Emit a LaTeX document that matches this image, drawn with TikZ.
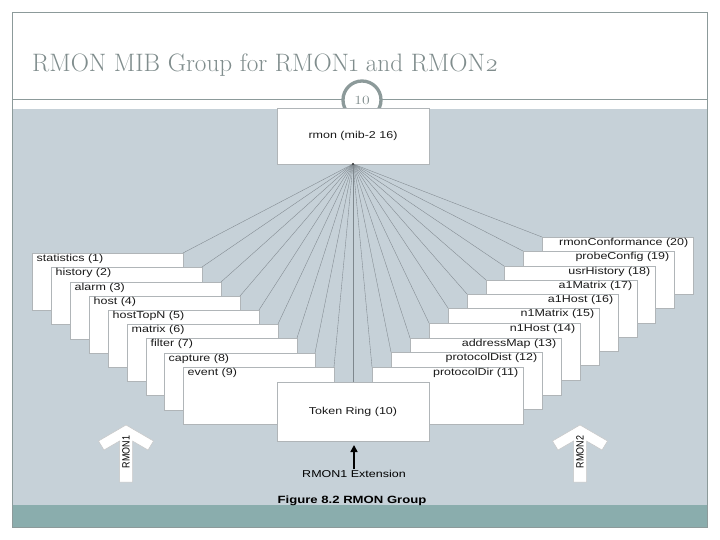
\documentclass[tikz,border=0pt]{standalone}
\usepackage{fontspec}
\setmainfont{Latin Modern Roman}[Numbers=OldStyle]
\newfontfamily\pgfont{Latin Modern Roman}[Numbers=Lining, FakeStretch=1.25]
\newfontfamily\boxfont[FakeStretch=1.25]{Liberation Sans}
\newfontfamily\armfont[FakeStretch=0.85]{Liberation Sans}
\usetikzlibrary{arrows.meta}
\definecolor{panel}{HTML}{C6D1D8}
\definecolor{band}{HTML}{8AADAD}
\definecolor{framec}{HTML}{8C9A9A}
\definecolor{titlec}{HTML}{808D8D}
\definecolor{fan}{HTML}{7E878D}
\definecolor{boxline}{HTML}{B0B5B8}
\tikzset{
  mbox/.style={draw=boxline, fill=white, line width=0.5pt, minimum width=151pt, minimum height=57pt, inner sep=0pt, outer sep=0pt, anchor=north west},
  ltxt/.style={anchor=base west, xshift=4.5pt, yshift=-8.7pt, inner sep=0pt, font=\boxfont\fontsize{10}{12}\selectfont, text=black!90},
  rtxt/.style={anchor=base east, xshift=-4.5pt, yshift=-8.7pt, inner sep=0pt, font=\boxfont\fontsize{10}{12}\selectfont, text=black!90},
  cbox/.style={draw=boxline, fill=white, line width=0.5pt, minimum width=152pt, minimum height=57pt, inner sep=0pt, outer sep=0pt, font=\boxfont\fontsize{10}{12}\selectfont, text=black!90},
  fanline/.style={draw=fan, line width=0.35pt},
  bigup/.pic={\filldraw[fill=white, draw=black!22, line width=0.5pt] (0,0) -- (27.5,16) -- (22,25) -- (6.5,16) -- (6.5,57) -- (-6.5,57) -- (-6.5,16) -- (-22,25) -- (-27.5,16) -- cycle;},
  armtxt/.style={rotate=90, inner sep=0pt, font=\armfont\fontsize{10.5}{12}\selectfont},
}
\begin{document}
\begin{tikzpicture}[x=1pt,y=-1pt]
\useasboundingbox (0,0) rectangle (720,540);
\fill[white] (0,0) rectangle (720,540);
% header
\node[anchor=base west, inner sep=0pt, font=\fontsize{25.2}{29}\selectfont, text=titlec] (title) at (32,72) {RMON MIB Group for RMON1 and RMON2};
\draw[framec, line width=1pt] (12,100) -- (707,100);
\node[circle, draw=framec, line width=3.3pt, fill=white, minimum size=38pt, inner sep=0pt, font=\pgfont\fontsize{12.5}{13}\selectfont, text=titlec] (pg) at (362,100) {10};
\fill[panel] (12,109) rectangle (707,505);
\fill[band] (12,505) rectangle (707,527);
\draw[framec, line width=0.8pt] (12,12) rectangle (707,527);
% top box
\node[cbox, minimum width=152pt, minimum height=56pt] (rmon) at (353,136) {rmon (mib-2 16)};
% left stack (RMON1)
\foreach \n/\x/\y/\t in {1/32/253/statistics (1), 2/51/267/history (2), 3/70/282/alarm (3), 4/89/296/host (4), 5/108/310/hostTopN (5), 6/127/324/matrix (6), 7/146/338/filter (7), 8/164/353/capture (8), 9/183/367/event (9)}
  \node[mbox, label={[ltxt]north west:\t}] (L\n) at (\x,\y) {};
% right stack (RMON2)
\foreach \n/\x/\y/\t in {20/542/237/rmonConformance (20), 19/523/251/probeConfig (19), 18/504/266/usrHistory (18), 17/486/280/a1Matrix (17), 16/467/294/a1Host (16), 15/448/308/n1Matrix (15), 14/429/323/n1Host (14), 13/410/338/addressMap (13), 12/391/352/protocolDist (12), 11/372/367/protocolDir (11)}
  \node[mbox, label={[rtxt]north east:\t}] (R\n) at (\x,\y) {};
% fan of connectors
\foreach \n in {1,...,9} \draw[fanline] (rmon.south) -- (L\n.north east);
\foreach \n in {11,...,20} \draw[fanline] (rmon.south) -- (R\n.north west);
\node[cbox, minimum height=59pt] (tr) at (353,411.5) {Token Ring (10)};
\draw[fanline] (rmon.south) -- (tr.north);
\fill[black!80] (rmon.south) circle (1.1pt);
% arrows
\pic (a1) at (126,425) {bigup};
\node[armtxt] (r1) at (126,452) {RMON1};
\pic (a2) at (580,425) {bigup};
\node[armtxt] (r2) at (580,452) {RMON2};
\node[inner sep=0pt, font=\boxfont\fontsize{10}{12}\selectfont] (ext) at (354,474) {RMON1 Extension};
\coordinate (exttip) at (354,445);
\draw[line width=1.6pt, -{Triangle[width=7pt,length=7pt]}] (ext.north) ++(0,-1) -- (exttip);
\node[inner sep=0pt, font=\boxfont\bfseries\fontsize{10.5}{12}\selectfont] (cap) at (352,501) {Figure 8.2 RMON Group};
\end{tikzpicture}
\end{document}
